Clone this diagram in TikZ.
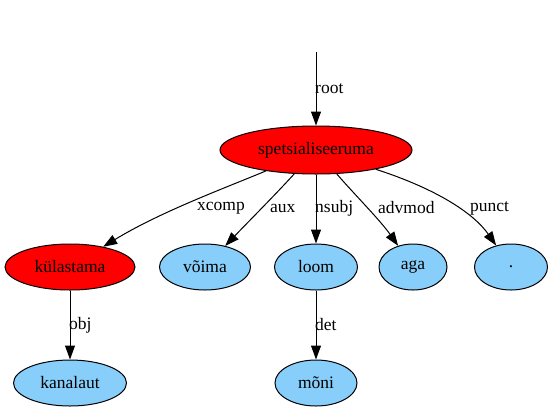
\documentclass[tikz,border=0pt]{standalone}
\usepackage{fontspec}
\setmainfont{Liberation Serif}
\usetikzlibrary{arrows.meta,shapes.geometric}
\definecolor{headred}{HTML}{FF0000}
\definecolor{leafblue}{HTML}{87CEFA}
\begin{document}
\begin{tikzpicture}[x=1pt,y=-1pt,
  word/.style={ellipse,draw=black,line width=1pt,inner sep=0pt,font=\fontsize{17.5}{20}\selectfont},
  headword/.style={word,fill=headred},
  leafword/.style={word,fill=leafblue},
  dep/.style={line width=1pt,-{Triangle[length=14pt,width=10pt]}},
  deplabel/.style={anchor=west,inner sep=0pt,font=\fontsize{17.5}{20}\selectfont}]
\useasboundingbox (0,0) rectangle (553,413);
% words
\node[headword,minimum width=192pt,minimum height=48pt] (sp) at (316,150) {spetsialiseeruma};
\node[headword,minimum width=130pt,minimum height=46pt] (kul) at (70,267) {külastama};
\node[leafword,minimum width=91pt,minimum height=46pt] (voi) at (205,267) {võima};
\node[leafword,minimum width=83pt,minimum height=46pt] (loom) at (316,267) {loom};
\node[leafword,minimum width=68pt,minimum height=46pt] (aga) at (413,267) {aga};
\node[leafword,minimum width=73pt,minimum height=46pt] (dot) at (511,267) {.};
\node[leafword,minimum width=113pt,minimum height=46pt] (kan) at (70,383) {kanalaut};
\node[leafword,minimum width=82pt,minimum height=46pt] (mon) at (316,383) {mõni};
\coordinate (top) at (316,52);
% dependencies
\draw[dep] (top) -- (sp);
\draw[dep] (sp) .. controls (225,188) and (160,212) .. (kul);
\draw[dep] (sp) .. controls (275,195) and (250,220) .. (voi);
\draw[dep] (sp) -- (loom);
\draw[dep] (sp) .. controls (355,195) and (380,220) .. (aga);
\draw[dep] (sp) .. controls (440,190) and (475,215) .. (dot);
\draw[dep] (kul) -- (kan);
\draw[dep] (loom) -- (mon);
% labels
\node[deplabel] (lroot) at (315,89) {root};
\node[deplabel] (lxcomp) at (197,208) {xcomp};
\node[deplabel] (laux) at (270,208) {aux};
\node[deplabel] (lnsubj) at (315,208) {nsubj};
\node[deplabel] (ladv) at (378,208) {advmod};
\node[deplabel] (lpunct) at (470,208) {punct};
\node[deplabel] (lobj) at (69,325) {obj};
\node[deplabel] (ldet) at (315,325) {det};
\end{tikzpicture}
\end{document}
